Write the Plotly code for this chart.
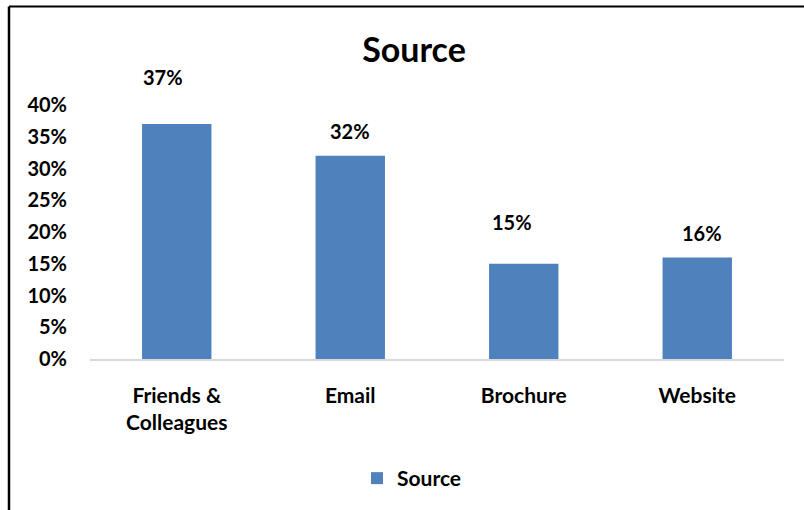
import plotly.graph_objects as go

# Chart data
categories = ["Friends &<br>Colleagues", "Email", "Brochure", "Website"]
shares = [0.37, 0.32, 0.15, 0.16]
y_ticks = [0, 0.05, 0.10, 0.15, 0.20, 0.25, 0.30, 0.35, 0.40]
y_tick_text = ["0%", "5%", "10%", "15%", "20%", "25%", "30%", "35%", "40%"]
series_name = "Source"

# Per-label nudges for the value labels (pixels)
label_dx = [-14, 0, -12, 5]
label_dy = [47, 25, 42, 24]

FONT = "Lato"
BAR_COLOR = "#4F81BD"

fig = go.Figure()
fig.add_trace(go.Bar(
    x=categories,
    y=shares,
    name=series_name,
    marker=dict(color=BAR_COLOR, line=dict(width=0)),
    showlegend=True,
))

for cat, val, dx, dy in zip(categories, shares, label_dx, label_dy):
    fig.add_annotation(
        x=cat, y=val, xref="x", yref="y",
        text=f"{round(val * 100)}%",
        showarrow=False,
        xshift=dx, yshift=dy,
        yanchor="middle",
        font=dict(family=FONT, size=20, color="#000000", weight="bold"),
    )

# Outer chart frame (left and top edges visible)
fig.add_shape(type="line", xref="paper", yref="paper",
              x0=(9 - 90) / 694, x1=(9 - 90) / 694,
              y0=(360 - 6) / 255, y1=(360 - 520) / 255,
              line=dict(color="#000000", width=2.5))
fig.add_shape(type="line", xref="paper", yref="paper",
              x0=(9 - 90) / 694, x1=(820 - 90) / 694,
              y0=(360 - 6) / 255, y1=(360 - 6) / 255,
              line=dict(color="#000000", width=2))

fig.update_layout(
    width=804, height=510,
    margin=dict(l=90, r=20, t=105, b=150),
    paper_bgcolor="#FFFFFF",
    plot_bgcolor="#FFFFFF",
    bargap=0.6,
    title=dict(
        text="Source",
        x=414 / 804, xanchor="center",
        y=1 - 50 / 510, yanchor="middle",
        font=dict(family=FONT, size=34, color="#000000", weight="bold"),
    ),
    xaxis=dict(
        showgrid=False,
        showline=True, linecolor="#D9D9D9", linewidth=1.5,
        ticks="", ticklabelstandoff=17,
        tickfont=dict(family=FONT, size=21, color="#000000", weight="bold"),
        zeroline=False,
    ),
    yaxis=dict(
        range=[0, 0.4],
        tickvals=y_ticks, ticktext=y_tick_text,
        showgrid=False, showline=False, zeroline=False,
        ticks="", ticklabelstandoff=22,
        tickfont=dict(family=FONT, size=20, color="#000000", weight="bold"),
    ),
    showlegend=True,
    legend=dict(
        orientation="h",
        x=(357 - 90) / 694, xanchor="left",
        y=(360 - 458) / 255, yanchor="top",
        font=dict(family=FONT, size=21, color="#000000", weight="bold"),
        bgcolor="rgba(0,0,0,0)",
    ),
)

fig.write_html("out.html")
